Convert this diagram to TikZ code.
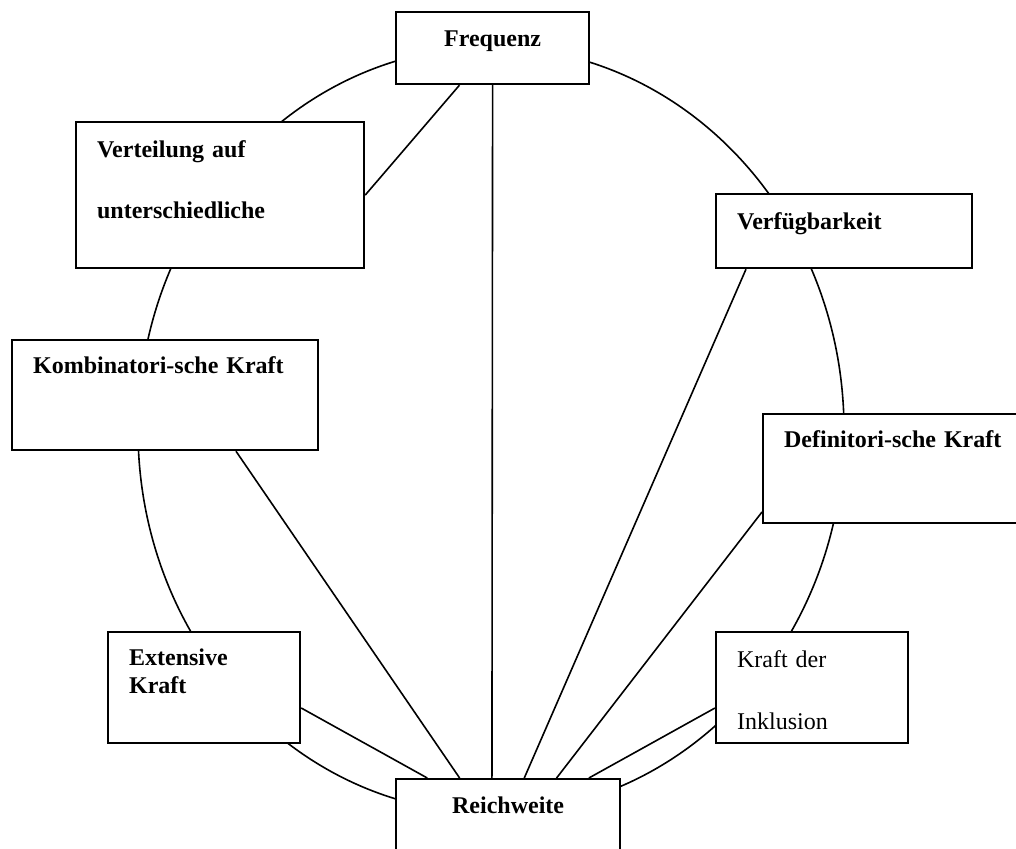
\documentclass[tikz,border=0pt]{standalone}
\usepackage{fontspec}
\setmainfont{Liberation Serif}
\usetikzlibrary{calc}

\tikzset{
	feld/.style={draw, line width=1.1pt, fill=white, anchor=north west,
		inner xsep=10.5pt, inner ysep=0pt, align=left,
		font=\fontsize{12}{14}\selectfont\bfseries},
	kante/.style={line width=0.8pt}
}

\begin{document}
\begin{tikzpicture}[x=0.5pt, y=-0.5pt]
			\useasboundingbox (0,0) rectangle (1016,848);

			% Kreis hinter den Feldern
			\draw[kante] (491,430) ellipse [x radius=353, y radius=383];

			\begin{scope}
				\node[feld, align=center, text width=75.5pt, text height=17pt, text depth=19pt] (freq) at (395,11) {Frequenz};
				\node[feld, text width=123pt, text height=17.5pt, text depth=55.5pt] (vert) at (75,121) {Verteilung auf\\[16.5pt]unterschiedliche};
				\node[feld, text width=107pt, text height=17.5pt, text depth=19.5pt] (verf) at (715,193) {Verfügbarkeit};
				\node[feld, text width=132pt, text height=16.5pt, text depth=38.5pt] (komb) at (11,339) {Kombinatori-sche Kraft};
				\node[feld, text width=113pt, text height=16.5pt, text depth=38pt] (defi) at (762,413) {Definitori-sche Kraft};
				\node[feld, text width=75pt, text height=16.5pt, text depth=39pt] (ext) at (107,631) {Extensive\\Kraft};
				\node[feld, font=\fontsize{12}{14}\selectfont\mdseries, text width=75pt, text height=17.5pt, text depth=38pt] (inkl) at (715,631) {Kraft der\\[17pt]Inklusion};
				\node[feld, align=center, text width=91pt, text height=17pt, text depth=40pt] (reich) at (395,778) {Reichweite};
			\end{scope}

			% Punkte auf der Oberkante von Reichweite
			\foreach \i in {1,...,6}
				\coordinate (r\i) at ($(reich.north west)!\i/7!(reich.north east)$);

			\begin{scope}[kante]
				\draw ($(freq.south west)!0.33!(freq.south east)$) -- (vert.east);
				\draw ($(ext.north east)!0.68!(ext.south east)$) -- (r1);
				\draw ($(komb.south west)!0.73!(komb.south east)$) -- (r2);
				\draw (freq.south) -- (r3);
				\draw ($(verf.south west)!0.12!(verf.south east)$) -- (r4);
				\draw ($(defi.north west)!0.89!(defi.south west)$) -- (r5);
				\draw ($(inkl.north west)!0.68!(inkl.south west)$) -- (r6);
			\end{scope}
		\end{tikzpicture}
\end{document}
